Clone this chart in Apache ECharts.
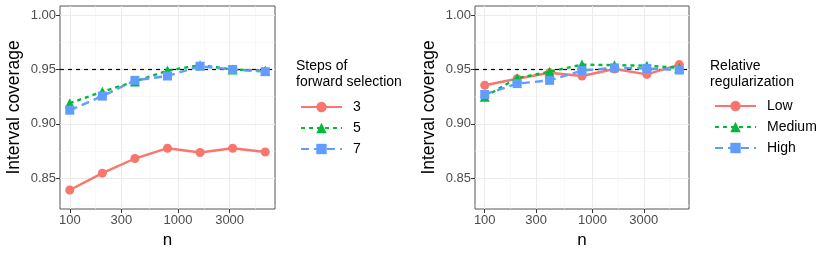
<!DOCTYPE html>
<html><head><meta charset="utf-8">
<script src="https://cdn.jsdelivr.net/npm/echarts@6/dist/echarts.min.js"></script>
<style>html,body{margin:0;padding:0;background:#fff}#c{width:830px;height:256px}</style>
</head><body><div id="c"></div>
<script>
const nValues = [100, 200, 400, 800, 1600, 3200, 6400];
const xTickLabels = [100, 300, 1000, 3000];
const yTickLabels = [0.85, 0.90, 0.95, 1.00];
const yMinorTicks = [0.825, 0.875, 0.925, 0.975];
const refLine = 0.95;

const stepsNames = ['3', '5', '7'];
const steps3 = [0.839, 0.8545, 0.868, 0.8775, 0.8735, 0.8775, 0.874];
const steps5 = [0.919, 0.9295, 0.939, 0.949, 0.954, 0.950, 0.949];
const steps7 = [0.9125, 0.9255, 0.940, 0.944, 0.953, 0.950, 0.948];

const regNames = ['Low', 'Medium', 'High'];
const regLow = [0.9355, 0.9415, 0.947, 0.944, 0.9505, 0.9455, 0.9545];
const regMedium = [0.925, 0.942, 0.948, 0.9545, 0.954, 0.9535, 0.9515];
const regHigh = [0.927, 0.937, 0.940, 0.949, 0.9515, 0.951, 0.9495];

const FONT = "'Liberation Sans', Arial, Helvetica, sans-serif";
const colors = ['#F8766D', '#00BA38', '#619CFF'];
const lineTypes = ['solid', [4, 4], [8, 5]];
const symbols = ['circle', 'triangle', 'rect'];
const symSizes = [9, 10, 9];

const lx = nValues.map(v => Math.log10(v));
const xMajor = xTickLabels.map(v => Math.log10(v));
const xMinor = [];
for (let i = 0; i < xMajor.length; i++) {
  const next = i + 1 < xMajor.length ? xMajor[i + 1] : xMajor[i] + (xMajor[i] - xMajor[i - 1]);
  xMinor.push((xMajor[i] + next) / 2);
}
const span = lx[lx.length - 1] - lx[0];
const xMin = lx[0] - 0.05 * span, xMax = lx[lx.length - 1] + 0.05 * span;
const yMin = 0.8215, yMax = 1.0085;

const grids = [
  {left: 60, width: 215, top: 6, height: 203},
  {left: 475, width: 214, top: 6, height: 203}
];

const xAxis = [], yAxis = [];
grids.forEach((g, gi) => {
  xAxis.push({
    type: 'value', gridIndex: gi, min: xMin, max: xMax,
    name: 'n', nameLocation: 'middle', nameGap: 22,
    nameTextStyle: {fontSize: 17, color: '#000', fontFamily: FONT},
    axisLine: {show: false},
    axisTick: {show: true, length: 4, lineStyle: {color: '#333', width: 1}, customValues: xMajor},
    axisLabel: {customValues: xMajor, fontSize: 13, color: '#4D4D4D', fontFamily: FONT, margin: 5,
      formatter: v => String(Math.round(Math.pow(10, v)))},
    splitLine: {show: true, lineStyle: {color: '#EBEBEB', width: 1}}
  });
  xAxis.push({
    type: 'value', gridIndex: gi, min: xMin, max: xMax, position: 'bottom',
    axisLine: {show: false}, axisTick: {show: false, customValues: xMinor},
    axisLabel: {show: false, customValues: xMinor},
    splitLine: {show: true, lineStyle: {color: '#F4F4F4', width: 0.6}}
  });
  yAxis.push({
    type: 'value', gridIndex: gi, min: yMin, max: yMax,
    name: 'Interval coverage', nameLocation: 'middle', nameGap: 37,
    nameTextStyle: {fontSize: 17.5, color: '#000', fontFamily: FONT},
    axisLine: {show: false},
    axisTick: {show: true, length: 4, lineStyle: {color: '#333', width: 1}, customValues: yTickLabels},
    axisLabel: {customValues: yTickLabels, fontSize: 13, color: '#4D4D4D', fontFamily: FONT, margin: 4,
      formatter: v => v.toFixed(2)},
    splitLine: {show: true, lineStyle: {color: '#EBEBEB', width: 1}}
  });
  yAxis.push({
    type: 'value', gridIndex: gi, min: yMin, max: yMax, position: 'left',
    axisLine: {show: false}, axisTick: {show: false, customValues: yMinorTicks},
    axisLabel: {show: false, customValues: yMinorTicks},
    splitLine: {show: true, lineStyle: {color: '#F4F4F4', width: 0.6}}
  });
});

function mkSeries(name, vals, k, gi, withRef) {
  const s = {
    name: name, type: 'line', xAxisIndex: gi * 2, yAxisIndex: gi * 2,
    data: lx.map((x, i) => [x, vals[i]]),
    symbol: symbols[k], symbolSize: symSizes[k], showSymbol: true,
    lineStyle: {color: colors[k], width: 2.4, type: lineTypes[k]},
    itemStyle: {color: colors[k]},
    animation: false, z: 3 + k
  };
  if (withRef) {
    s.markLine = {
      silent: true, symbol: 'none', label: {show: false},
      lineStyle: {color: '#000', type: [4, 4], width: 1.2},
      data: [{yAxis: refLine}], z: 2
    };
  }
  return s;
}

const series = [
  mkSeries(stepsNames[0], steps3, 0, 0, true),
  mkSeries(stepsNames[1], steps5, 1, 0, false),
  mkSeries(stepsNames[2], steps7, 2, 0, false),
  mkSeries(regNames[0], regLow, 0, 1, true),
  mkSeries(regNames[1], regMedium, 1, 1, false),
  mkSeries(regNames[2], regHigh, 2, 1, false)
];

const legendCommon = {
  orient: 'vertical', itemWidth: 41, itemHeight: 13, itemGap: 7,
  textStyle: {fontSize: 14, color: '#000', fontFamily: FONT, padding: [0, 0, 0, 6]},
  selectedMode: false, padding: 0
};

const option = {
  animation: false,
  grid: grids.map(g => Object.assign({show: true, borderColor: '#555', borderWidth: 1, backgroundColor: 'transparent', containLabel: false, outerBoundsMode: 'none'}, g)),
  title: [
    {text: 'Steps of\nforward selection', left: 296, top: 58, padding: 0,
      textStyle: {fontSize: 14, fontWeight: 'normal', color: '#000', fontFamily: FONT, lineHeight: 16}},
    {text: 'Relative\nregularization', left: 710, top: 58, padding: 0,
      textStyle: {fontSize: 14, fontWeight: 'normal', color: '#000', fontFamily: FONT, lineHeight: 16}}
  ],
  legend: [
    Object.assign({data: stepsNames, left: 300, top: 100}, legendCommon),
    Object.assign({data: regNames, left: 714, top: 99}, legendCommon)
  ],
  xAxis: xAxis,
  yAxis: yAxis,
  series: series
};

const chart = echarts.init(document.getElementById('c'), null, {renderer: 'canvas'});
chart.setOption(option);
</script>
</body></html>
